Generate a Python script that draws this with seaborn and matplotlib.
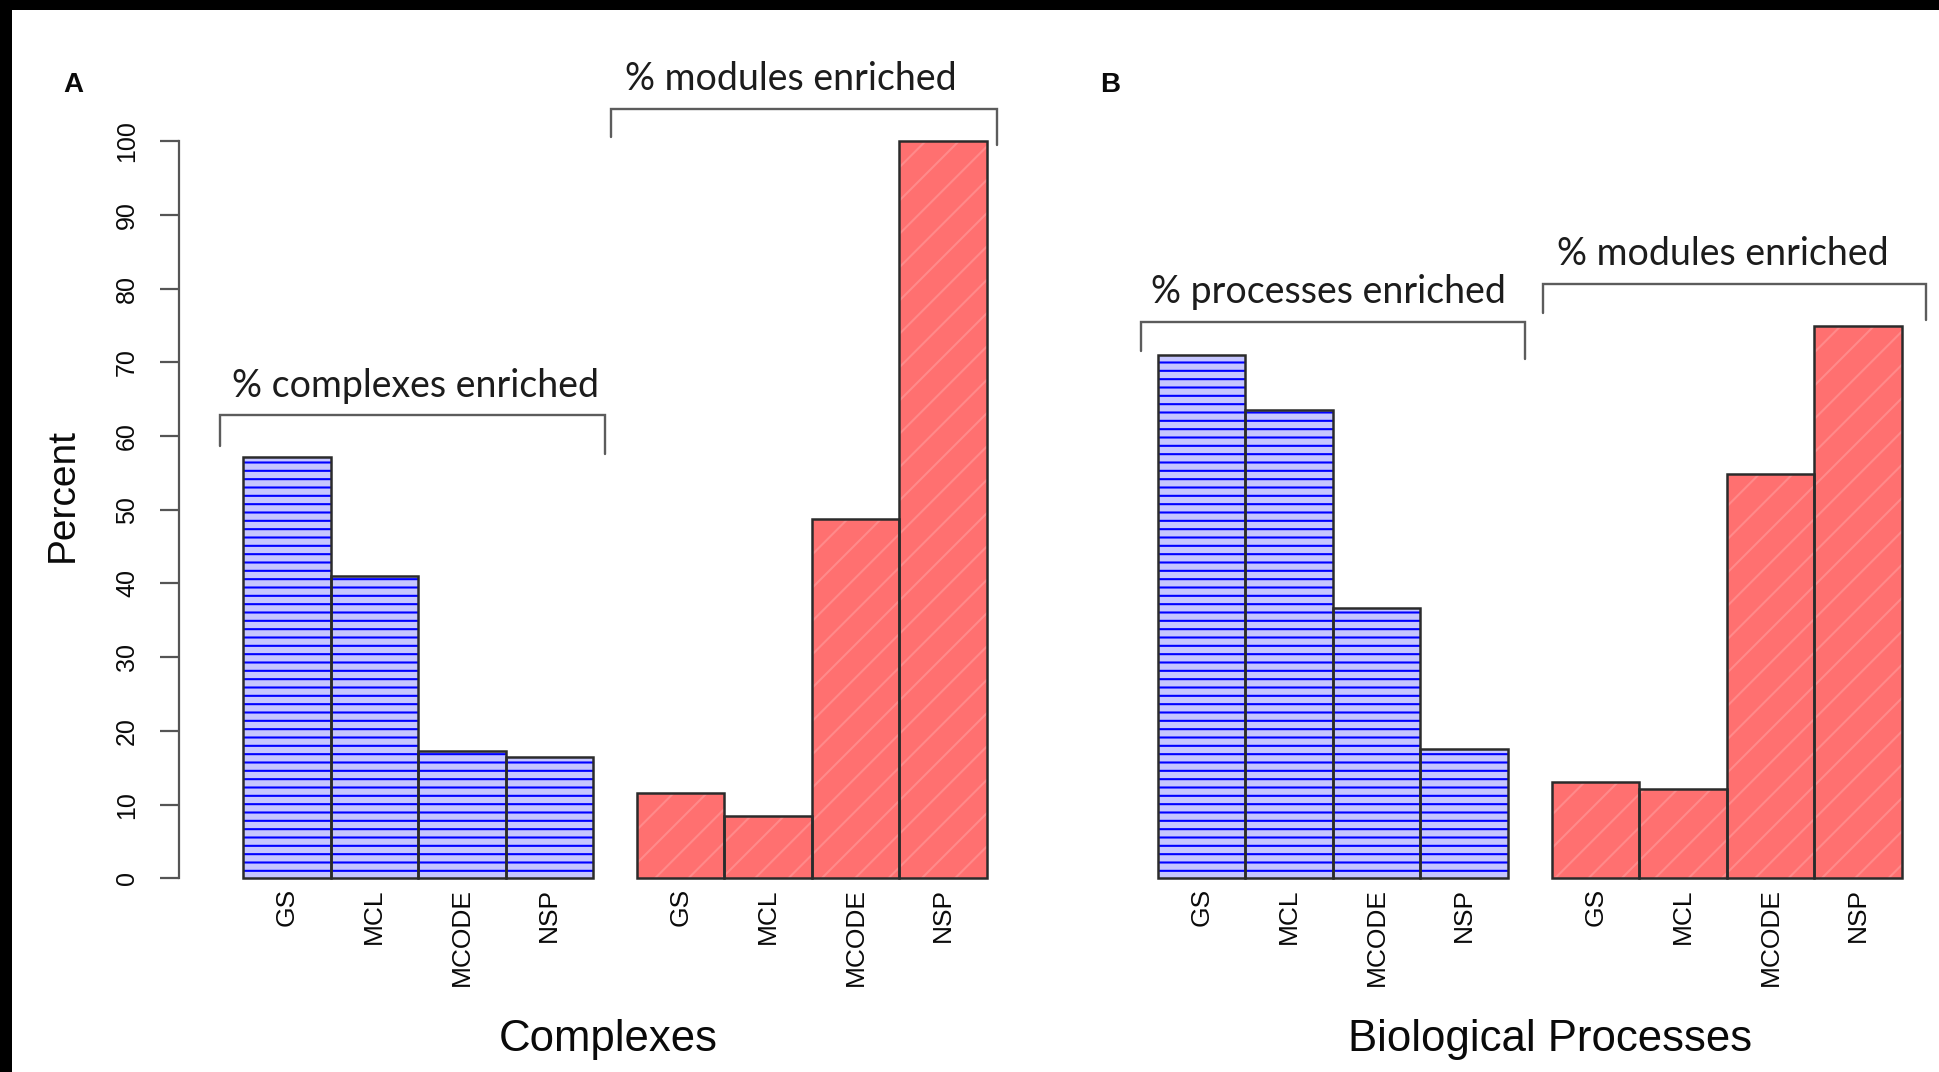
import matplotlib
matplotlib.use("Agg")
import matplotlib.pyplot as plt
from matplotlib.patches import Rectangle
import numpy as np
import seaborn as sns

# ---- data -------------------------------------------------------------
methods = ["GS", "MCL", "MCODE", "NSP"]
complexes_enriched = [57.1, 41.0, 17.3, 16.5]          # panel A, % complexes enriched
complex_modules_enriched = [11.6, 8.4, 48.7, 100.0]    # panel A, % modules enriched
processes_enriched = [71.0, 63.6, 36.7, 17.6]          # panel B, % processes enriched
process_modules_enriched = [13.0, 12.1, 54.9, 75.0]    # panel B, % modules enriched
y_ticks = [0, 10, 20, 30, 40, 50, 60, 70, 80, 90, 100]
panel_a_groups = ["% complexes enriched", "% modules enriched"]
panel_b_groups = ["% processes enriched", "% modules enriched"]
panel_titles = ["Complexes", "Biological Processes"]

# ---- style ------------------------------------------------------------
sns.set_theme(style="white")
plt.rcParams["font.family"] = ["Liberation Sans", "DejaVu Sans"]
plt.rcParams["hatch.linewidth"] = 1.5

W, H = 1940, 1072
fig = plt.figure(figsize=(W / 100, H / 100), dpi=100)
fig.patch.set_facecolor("white")

BAR_PX = 87.5          # width of one bar in pixels
BASE_PX = 878.3        # pixel row of the zero line
PX_PER_PCT = 7.37      # vertical pixels per percent
YMAX = 110
GROUP_GAP = 0.5        # gap between the two bar groups, in bar widths

OUTLINE = "#2b2b2b"
AXIS_GREY = "#555555"
BLUE_FACE, BLUE_LINE = "#c6c6ff", "#0000ff"
RED_FACE, RED_LINE = "#ff7070", "#ff8a8a"
NOTE_FONT = ["Lato", "DejaVu Sans"]


def fx(px):
    return px / W


def fy(py):
    return 1 - py / H


def make_axes(left_px, right_px):
    bottom = (H - BASE_PX) / H
    height = YMAX * PX_PER_PCT / H
    ax = fig.add_axes([left_px / W, bottom, (right_px - left_px) / W, height])
    ax.set_facecolor("none")
    return ax


def draw_group(ax, positions, values, face, hatch, hatch_color):
    # hatched fill layer
    n0 = len(ax.patches)
    sns.barplot(x=positions, y=values, native_scale=True, width=1.0, orient="x",
                errorbar=None, color=face, ax=ax)
    for p in ax.patches[n0:]:
        p.set_facecolor(face)
        p.set_edgecolor(hatch_color)
        p.set_hatch(hatch)
        p.set_linewidth(0)
        p.set_zorder(2)
    # dark outline layer
    n1 = len(ax.patches)
    sns.barplot(x=positions, y=values, native_scale=True, width=1.0, orient="x",
                errorbar=None, fill=False, color=OUTLINE, ax=ax)
    for p in ax.patches[n1:]:
        p.set_facecolor("none")
        p.set_edgecolor(OUTLINE)
        p.set_linewidth(1.8)
        p.set_clip_on(False)
        p.set_zorder(3)


def bracket(ax, x0, x1, y_top, y_left, y_right, label, label_x):
    ax.plot([x0, x0, x1, x1], [y_left, y_top, y_top, y_right], color="#5c5c5c",
            lw=1.7, clip_on=False, solid_joinstyle="miter", zorder=4)
    ax.text(label_x, y_top + 2.55, label, ha="center", va="baseline",
            fontsize=27, family=NOTE_FONT, color="#1c1c1c")


def panel(left_px, right_px, origin_px, blue_vals, red_vals):
    ax = make_axes(left_px, right_px)
    blue_pos = np.arange(len(methods)) + 0.5
    red_pos = blue_pos + len(methods) + GROUP_GAP
    draw_group(ax, blue_pos, blue_vals, BLUE_FACE, "--", BLUE_LINE)
    draw_group(ax, red_pos, red_vals, RED_FACE, "/", RED_LINE)
    ax.set_xlim((left_px - origin_px) / BAR_PX, (right_px - origin_px) / BAR_PX)
    ax.set_ylim(0, YMAX)
    ax.set_xticks(np.concatenate([blue_pos, red_pos]))
    ax.set_xticklabels(methods * 2, rotation=90, fontsize=19, color="#0a0a0a")
    ax.tick_params(axis="x", length=0, pad=7)
    ax.set_xlabel("")
    ax.set_ylabel("")
    for s in ax.spines.values():
        s.set_visible(False)
    return ax


# ---- panel A ----------------------------------------------------------
ax_a = panel(179, 1050, 243, complexes_enriched, complex_modules_enriched)
ax_a.spines["left"].set_visible(True)
ax_a.spines["left"].set_bounds(0, 100)
ax_a.spines["left"].set_color(AXIS_GREY)
ax_a.spines["left"].set_linewidth(1.6)
ax_a.set_yticks(y_ticks)
ax_a.set_yticklabels([str(t) for t in y_ticks], rotation=90, fontsize=18)
for t in ax_a.get_yticklabels():
    t.set_va("center")
ax_a.tick_params(axis="y", left=True, length=13.7, width=1.6, color=AXIS_GREY,
                 pad=15, labelcolor="#0a0a0a")

bracket(ax_a, -0.263, 4.137, 62.8, 58.6, 57.6, panel_a_groups[0], 1.975)
bracket(ax_a, 4.206, 8.617, 104.4, 100.6, 99.5, panel_a_groups[1], 6.258)

# ---- panel B ----------------------------------------------------------
ax_b = panel(1100, 1940, 1158, processes_enriched, process_modules_enriched)
ax_b.set_yticks([])

bracket(ax_b, -0.194, 4.20, 75.5, 71.5, 70.4, panel_b_groups[0], 1.943)
bracket(ax_b, 4.40, 8.777, 80.6, 76.7, 75.8, panel_b_groups[1], 6.457)

# ---- labels -----------------------------------------------------------
fig.text(fx(63), fy(495), "Percent", rotation=90, ha="center", va="center",
         fontsize=28, color="#0a0a0a")
fig.text(fx(608), fy(1040), panel_titles[0], ha="center", va="center",
         fontsize=31.5, color="#0a0a0a")
fig.text(fx(1550), fy(1040), panel_titles[1], ha="center", va="center",
         fontsize=31.5, color="#0a0a0a")
fig.text(fx(73), fy(85), "A", ha="center", va="center", fontsize=20,
         fontweight="bold", color="#0a0a0a")
fig.text(fx(1110), fy(85), "B", ha="center", va="center", fontsize=20,
         fontweight="bold", color="#0a0a0a")

# black frame strips along the top and left edges
fig.add_artist(Rectangle((0, 1 - 10 / H), 1, 10 / H, transform=fig.transFigure,
                         facecolor="black", edgecolor="none"))
fig.add_artist(Rectangle((0, 0), 12 / W, 1, transform=fig.transFigure,
                         facecolor="black", edgecolor="none"))

fig.savefig("out.png", dpi=100)
